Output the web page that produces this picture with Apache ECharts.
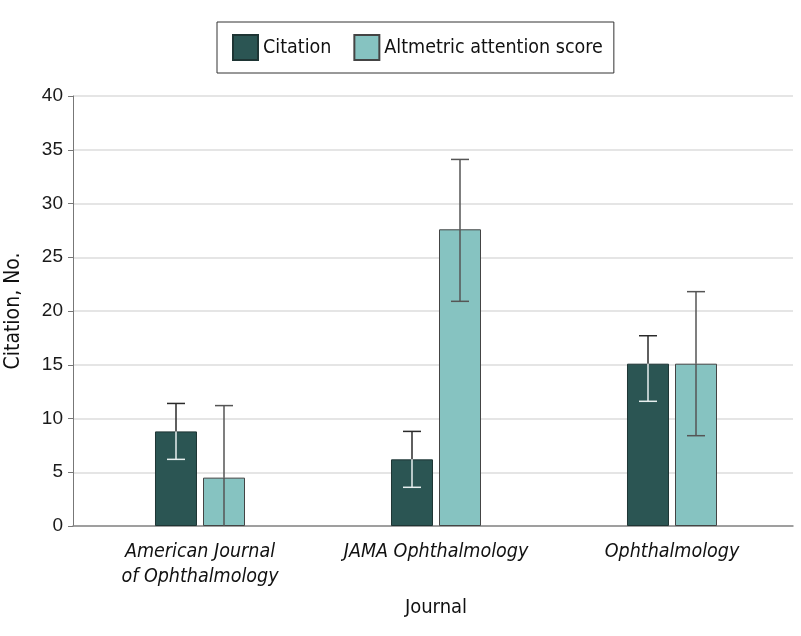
<!DOCTYPE html>
<html>
<head>
<meta charset="utf-8">
<style>
  html, body { margin: 0; padding: 0; background: #fff; }
  #chart { width: 801px; height: 636px; }
</style>
<script src="https://cdn.jsdelivr.net/npm/echarts@6/dist/echarts.min.js"></script>
</head>
<body>
<div id="chart"></div>
<script>
const journals = ["American Journal\nof Ophthalmology", "JAMA Ophthalmology", "Ophthalmology"];
const citationMean = [8.8, 6.2, 15.1];
const citationLow = [6.2, 3.6, 11.6];
const citationHigh = [11.4, 8.8, 17.7];
const altmetricMean = [4.5, 27.6, 15.1];
const altmetricLow = [-2.2, 20.9, 8.4];
const altmetricHigh = [11.2, 34.1, 21.8];
const yTicks = { min: 0, max: 40, interval: 5 };

const DARK = "#2b5553";
const LIGHT = "#86c3c1";
const COND = "'DejaVu Sans Condensed', 'DejaVu Sans', sans-serif";
const SANS = "'Liberation Sans', Arial, sans-serif";

function errorData(lows, highs, means, which) {
  return journals.map((_, i) => [i, lows[i], highs[i], means[i], which]);
}

// error bar drawn per bar; the part inside the dark bar is white
function renderError(params, api) {
  const cat = api.value(0);
  const which = api.value(4);
  const offset = which === 0 ? -24 : 24;
  const capHalf = 9;
  const lowVal = Math.max(api.value(1), yTicks.min);
  const clipped = api.value(1) < yTicks.min;
  const high = api.coord([cat, api.value(2)]);
  const mid = api.coord([cat, api.value(3)]);
  const low = api.coord([cat, lowVal]);
  const x = high[0] + offset;
  const upperColor = which === 0 ? "#2a2a2a" : "#555";
  const lowerColor = which === 0 ? "#e8efef" : "#555";
  const line = (x1, y1, x2, y2, color) => ({
    type: "line",
    shape: { x1, y1, x2, y2 },
    style: { stroke: color, lineWidth: 1.5 }
  });
  const children = [
    line(x, high[1], x, mid[1], upperColor),
    line(x - capHalf, high[1], x + capHalf, high[1], upperColor),
    line(x, mid[1], x, low[1], lowerColor)
  ];
  if (!clipped) {
    children.push(line(x - capHalf, low[1], x + capHalf, low[1], lowerColor));
  }
  return { type: "group", children };
}

const chart = echarts.init(document.getElementById("chart"));

chart.setOption({
  animation: false,
  backgroundColor: "#fff",
  legend: {
    left: 217,
    top: 22,
    orient: "horizontal",
    padding: [12, 11, 12, 15],
    borderColor: "#333",
    borderWidth: 1,
    icon: "rect",
    itemWidth: 25,
    itemHeight: 25,
    itemGap: 22,
    textStyle: { fontFamily: COND, fontSize: 19.5, color: "#111" },
    data: ["Citation", "Altmetric attention score"]
  },
  grid: [
    { left: 73, right: 8, top: 96, bottom: 110, outerBoundsMode: "none", containLabel: false },
    { left: 82, right: 11, top: 96, bottom: 110, outerBoundsMode: "none", containLabel: false }
  ],
  xAxis: [
    {
      type: "category",
      gridIndex: 0,
      data: journals,
      axisLine: { lineStyle: { color: "#888", width: 1.5 } },
      axisTick: { show: false },
      axisLabel: { show: false }
    },
    {
      type: "category",
      gridIndex: 1,
      data: journals,
      axisLine: { show: false },
      axisTick: { show: false },
      axisLabel: {
        interval: 0,
        margin: 13,
        fontFamily: COND,
        fontStyle: "italic",
        fontSize: 19.5,
        lineHeight: 25,
        color: "#111"
      },
      name: "Journal",
      nameLocation: "middle",
      nameGap: 72,
      nameTextStyle: { fontFamily: COND, fontSize: 20, color: "#111" }
    }
  ],
  yAxis: [
    {
      type: "value",
      gridIndex: 0,
      min: yTicks.min,
      max: yTicks.max,
      interval: yTicks.interval,
      axisLine: { show: true, lineStyle: { color: "#777", width: 1 } },
      axisTick: { show: true, length: 5, lineStyle: { color: "#777" } },
      axisLabel: { margin: 10, fontFamily: SANS, fontSize: 19, color: "#1a1a1a" },
      splitLine: { lineStyle: { color: "#dcdcdc", width: 1.5 } },
      name: "Citation, No.",
      nameLocation: "middle",
      nameGap: 49,
      nameTextStyle: { fontFamily: COND, fontSize: 21, color: "#111" }
    },
    {
      type: "value",
      gridIndex: 1,
      min: yTicks.min,
      max: yTicks.max,
      interval: yTicks.interval,
      show: false
    }
  ],
  series: [
    {
      name: "Citation",
      type: "bar",
      xAxisIndex: 1,
      yAxisIndex: 1,
      barWidth: 42,
      barGap: "14.3%",
      itemStyle: { color: DARK, borderColor: "#1e3534", borderWidth: 1 },
      data: citationMean
    },
    {
      name: "Altmetric attention score",
      type: "bar",
      xAxisIndex: 1,
      yAxisIndex: 1,
      barWidth: 42,
      barGap: "14.3%",
      itemStyle: { color: LIGHT, borderColor: "#444", borderWidth: 1 },
      data: altmetricMean
    },
    {
      type: "custom",
      xAxisIndex: 1,
      yAxisIndex: 1,
      z: 5,
      renderItem: renderError,
      encode: { x: 0, y: [1, 2] },
      data: errorData(citationLow, citationHigh, citationMean, 0)
    },
    {
      type: "custom",
      xAxisIndex: 1,
      yAxisIndex: 1,
      z: 5,
      renderItem: renderError,
      encode: { x: 0, y: [1, 2] },
      data: errorData(altmetricLow, altmetricHigh, altmetricMean, 1)
    }
  ]
});
</script>
</body>
</html>
